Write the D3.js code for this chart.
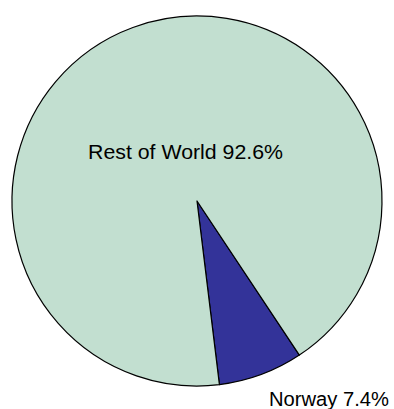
<!DOCTYPE html>
<html><head><meta charset="utf-8">
<script src="https://cdn.jsdelivr.net/npm/d3@7"></script>
<style>body{margin:0;background:#fff}svg{display:block}</style>
</head><body>
<script>
const categories = ["Norway", "Rest of World"];
const values = [7.4, 92.6];
const labels = ["Norway 7.4%", "Rest of World 92.6%"];
const colors = ["#333399", "#C2DFD0"];

const W = 394, H = 409, cx = 197, cy = 201, R = 185;
const svg = d3.select("body").append("svg").attr("width", W).attr("height", H);
const g = svg.append("g").attr("transform", `translate(${cx},${cy})`);

const startDeg = 146.4;
const pie = d3.pie().sort(null).value(d => d)
  .startAngle(startDeg * Math.PI / 180)
  .endAngle((startDeg + 360) * Math.PI / 180);
const arcs = pie(values);
const arc = d3.arc().innerRadius(0).outerRadius(R);
const color = d3.scaleOrdinal().domain(categories).range(colors);

g.selectAll("path").data(arcs).enter().append("path")
  .attr("d", arc)
  .attr("fill", (d, i) => color(categories[i]))
  .attr("stroke", "#000").attr("stroke-width", 1.2).attr("stroke-linejoin", "round");

// labels
svg.append("text").attr("x", 88).attr("y", 158.5).attr("text-anchor", "start")
  .attr("font-family", "Liberation Sans, Arial, sans-serif").attr("font-size", 20)
  .attr("textLength", 195).attr("lengthAdjust", "spacingAndGlyphs")
  .attr("fill", "#000").text(labels[1]);
svg.append("text").attr("x", 269).attr("y", 406).attr("text-anchor", "start")
  .attr("font-family", "Liberation Sans, Arial, sans-serif").attr("font-size", 20)
  .attr("textLength", 120).attr("lengthAdjust", "spacingAndGlyphs")
  .attr("fill", "#000").text(labels[0]);
</script>
</body></html>
